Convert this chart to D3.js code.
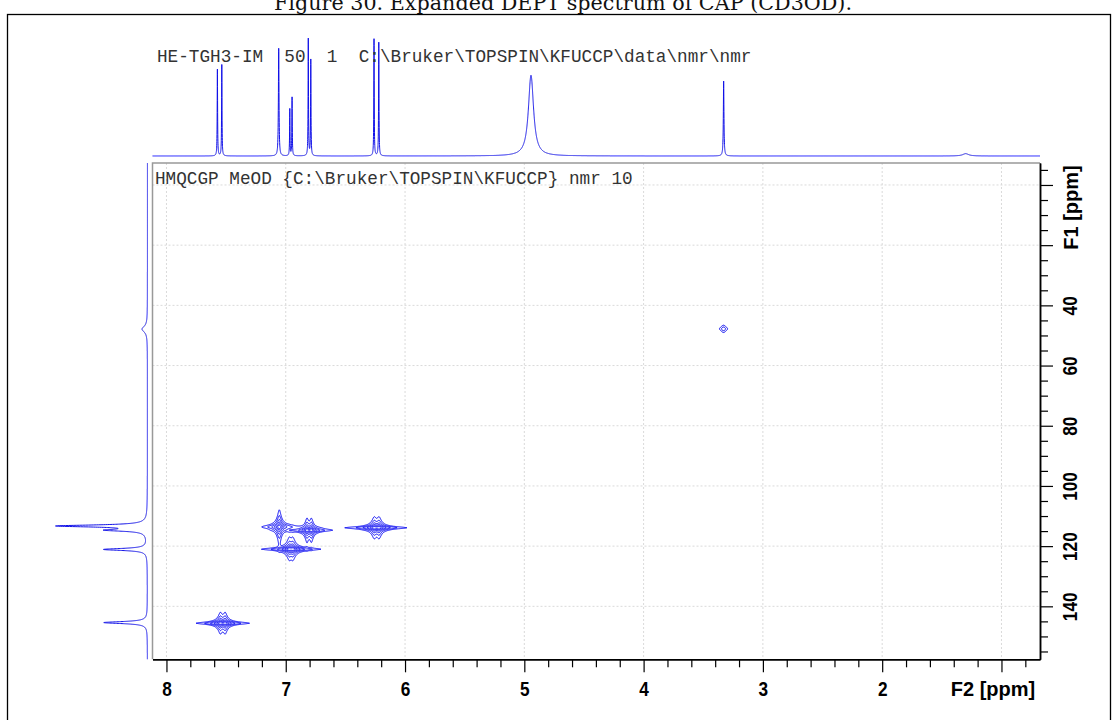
<!DOCTYPE html>
<html>
<head>
<meta charset="utf-8">
<script src="https://cdn.jsdelivr.net/npm/d3@7"></script>
<style>
body { margin: 0; background: #fff; }
svg { display: block; }
</style>
</head>
<body>
<div id="chart"></div>
<script>
// 1H projection on top: shift (ppm), relative height, half width (ppm)
const h1Shift  = [7.573, 7.536, 7.059, 6.966, 6.947, 6.811, 6.790, 6.260, 6.220, 4.944, 3.329, 1.30];
const h1Height = [74, 78, 92, 40, 50, 100, 82, 100, 97, 69, 64, 2];
const h1Width  = [0.002, 0.002, 0.003, 0.002, 0.002, 0.002, 0.002, 0.002, 0.002, 0.026, 0.003, 0.03];

// 13C projection on the left
const c13Shift  = [113.3, 114.7, 121.1, 145.4, 47.9];
const c13Height = [100, 42, 49, 49, 6];
const c13Width  = [0.4, 0.4, 0.4, 0.4, 1.2];

// HMQC cross peaks (F2 = 1H, F1 = 13C)
const xpF2     = [7.054, 6.822, 6.785, 6.258, 6.218, 6.970, 6.940, 7.548, 7.508, 3.330];
const xpF1     = [113.6, 114.7, 114.7, 113.9, 113.9, 121.0, 121.0, 145.6, 145.6, 47.8];
const xpAmp    = [115, 110, 110, 110, 110, 110, 110, 110, 110, 3.6];
const xpWidth2 = [0.0134, 0.0126, 0.0126, 0.0168, 0.0168, 0.0168, 0.0168, 0.015, 0.015, 0.021];
const xpWidth1 = [0.53, 0.365, 0.365, 0.33, 0.33, 0.33, 0.33, 0.33, 0.33, 0.75];
const contourLevels = [1, 2.2, 5, 11, 25, 55];

// axes
const f2Major = [1, 2, 3, 4, 5, 6, 7, 8];
const f2Minor = d3.range(4, 41).map(d => d / 5).filter(d => !Number.isInteger(d));
const f1Major = [0, 20, 40, 60, 80, 100, 120, 140];
const f1Minor = d3.range(-5, 156, 5).filter(d => d % 20 !== 0);

const titleText = "Figure 30. Expanded DEPT spectrum of CAP (CD3OD).";
const topText = "HE-TGH3-IM  50  1  C:\\Bruker\\TOPSPIN\\KFUCCP\\data\\nmr\\nmr";
const plotText = "HMQCGP MeOD {C:\\Bruker\\TOPSPIN\\KFUCCP} nmr 10";

const W = 1118, H = 720;
const frame = {left: 152.5, right: 1040, top: 163, bottom: 659.3};
const blue = "#1010e8";

let svg = d3.select("#chart").append("svg")
	.attr("width", W)
	.attr("height", H);

let x = d3.scaleLinear([8.117, 0.677], [frame.left, frame.right]);
let y = d3.scaleLinear([-7.3, 157.6], [frame.top, frame.bottom]);
let yTop = d3.scaleLinear([0, 100], [156, 39]);
let xLeft = d3.scaleLinear([0, 100], [147.4, 58.4]);

const lor = (d, w) => 1 / (1 + (d / w) * (d / w));

// outer page box and caption
svg.append("rect")
	.attr("x", 7.5).attr("y", 14.5)
	.attr("width", 1103).attr("height", 740)
	.attr("fill", "none")
	.attr("stroke", "#000")
	.attr("stroke-width", 1.3);
svg.append("text")
	.attr("x", 274).attr("y", 10)
	.attr("textLength", 578)
	.attr("lengthAdjust", "spacingAndGlyphs")
	.attr("font-family", "'DejaVu Serif', 'Liberation Serif', serif")
	.attr("font-size", 20)
	.attr("fill", "#111")
	.text(titleText);

// grid
let grid = svg.append("g")
	.attr("stroke", "#dadada")
	.attr("stroke-dasharray", "2,2")
	.attr("stroke-width", 1);
grid.selectAll("line.v")
	.data(f2Major)
	.join("line")
	.attr("class", "v")
	.attr("x1", d => x(d)).attr("x2", d => x(d))
	.attr("y1", frame.top).attr("y2", frame.bottom);
grid.selectAll("line.h")
	.data(f1Major)
	.join("line")
	.attr("class", "h")
	.attr("x1", frame.left).attr("x2", frame.right)
	.attr("y1", d => y(d)).attr("y2", d => y(d));

// gray frame (top / left)
svg.append("path")
	.attr("d", `M${frame.left},${frame.bottom}V${frame.top}H${frame.right}`)
	.attr("fill", "none")
	.attr("stroke", "#999")
	.attr("stroke-width", 1.5);

// contour plot
svg.append("clipPath").attr("id", "clip")
	.append("rect")
	.attr("x", frame.left).attr("y", frame.top)
	.attr("width", frame.right - frame.left)
	.attr("height", frame.bottom - frame.top);

const step = 0.5;
const gw = Math.ceil((frame.right - frame.left) / step);
const gh = Math.ceil((frame.bottom - frame.top) / step);
const values = new Float64Array(gw * gh);
xpF2.forEach((c2, k) => {
	let lx = d3.range(gw).map(i => lor(x.invert(frame.left + (i + 0.5) * step) - c2, xpWidth2[k]));
	for (let j = 0; j < gh; j++) {
		let ly = xpAmp[k] * lor(y.invert(frame.top + (j + 0.5) * step) - xpF1[k], xpWidth1[k]);
		if (ly < 0.01) continue;
		let row = j * gw;
		for (let i = 0; i < gw; i++) values[row + i] += ly * lx[i];
	}
});
let contours = d3.contours().size([gw, gh]).thresholds(contourLevels)(values);
let cpath = d3.geoPath(d3.geoIdentity().scale(step).translate([frame.left, frame.top]));
svg.append("g")
	.attr("clip-path", "url(#clip)")
	.attr("fill", "none")
	.attr("stroke", "#0000f0")
	.attr("stroke-width", 1)
	.selectAll("path")
	.data(contours)
	.join("path")
	.attr("d", cpath);

// 1D projections
let topData = d3.range(8.117, 0.677, -0.0005).map(p =>
	[p, d3.sum(h1Shift, (s, i) => h1Height[i] * lor(p - s, h1Width[i]))]);
svg.append("path")
	.attr("d", d3.line().x(d => x(d[0])).y(d => yTop(d[1]))(topData))
	.attr("fill", "none")
	.attr("stroke", blue)
	.attr("stroke-width", 1);

let leftData = d3.range(-7.3, 157.6, 0.02).map(p =>
	[p, d3.sum(c13Shift, (s, i) => c13Height[i] * lor(p - s, c13Width[i]))]);
svg.append("path")
	.attr("d", d3.line().x(d => xLeft(d[1])).y(d => y(d[0]))(leftData))
	.attr("fill", "none")
	.attr("stroke", blue)
	.attr("stroke-width", 1);

// axes
const axisFont = "'Liberation Sans', Arial, sans-serif";
let xg = svg.append("g").attr("transform", `translate(0,${frame.bottom})`);
xg.append("g")
	.call(d3.axisBottom(x).tickValues(f2Minor).tickSize(8).tickSizeOuter(0).tickFormat(""));
xg.append("g")
	.call(d3.axisBottom(x).tickValues(f2Major).tickSize(13).tickSizeOuter(0).tickFormat(d => d === 1 ? "" : d))
	.call(g => g.selectAll("text")
		.attr("y", null).attr("dy", null)
		.attr("transform", "translate(0,37) scale(0.82,1)")
		.attr("font-size", 21)
		.attr("font-weight", "bold")
		.attr("font-family", axisFont)
		.attr("fill", "#000"));

let yg = svg.append("g").attr("transform", `translate(${frame.right},0)`);
yg.append("g")
	.call(d3.axisRight(y).tickValues(f1Minor).tickSize(8).tickSizeOuter(0).tickFormat(""));
yg.append("g")
	.call(d3.axisRight(y).tickValues(f1Major).tickSize(13).tickSizeOuter(0).tickFormat(d => d < 40 ? "" : d))
	.call(g => g.selectAll("text")
		.attr("x", null).attr("dy", null)
		.attr("text-anchor", "middle")
		.attr("transform", "translate(37,0) rotate(-90) scale(0.82,1)")
		.attr("font-size", 21)
		.attr("font-weight", "bold")
		.attr("font-family", axisFont)
		.attr("fill", "#000"));

svg.selectAll(".domain")
	.attr("stroke", "#000")
	.attr("stroke-width", 1.5);
svg.selectAll(".tick line")
	.attr("stroke", "#000")
	.attr("stroke-width", 1.2);

svg.append("text")
	.attr("x", 993).attr("y", 696)
	.attr("text-anchor", "middle")
	.attr("font-size", 20)
	.attr("font-weight", "bold")
	.attr("font-family", axisFont)
	.text("F2 [ppm]");
svg.append("text")
	.attr("transform", "translate(1078,207.5) rotate(-90)")
	.attr("text-anchor", "middle")
	.attr("font-size", 20)
	.attr("font-weight", "bold")
	.attr("font-family", axisFont)
	.text("F1 [ppm]");

// acquisition labels
const monoFont = "'Liberation Mono', 'Courier New', monospace";
svg.append("text")
	.attr("x", 157).attr("y", 62)
	.attr("font-family", monoFont)
	.attr("font-size", 17.7)
	.attr("fill", "#333")
	.style("white-space", "pre")
	.text(topText);
svg.append("text")
	.attr("x", 155).attr("y", 184)
	.attr("font-family", monoFont)
	.attr("font-size", 17.7)
	.attr("fill", "#333")
	.style("white-space", "pre")
	.text(plotText);
</script>
</body>
</html>
